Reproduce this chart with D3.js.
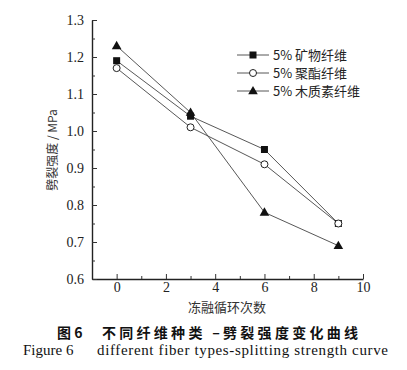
<!DOCTYPE html>
<html>
<head>
<meta charset="utf-8">
<style>
  body { margin: 0; background: #fff; }
  svg { display: block; }
</style>
</head>
<body>
<svg width="407" height="370"></svg>
<script src="https://cdn.jsdelivr.net/npm/d3@7"></script>
<script>

var cycles = [0, 3, 6, 9];
var mineral = [1.19, 1.04, 0.95, 0.75];
var polyester = [1.17, 1.01, 0.91, 0.75];
var lignin = [1.23, 1.05, 0.78, 0.69];
var seriesNames = ["5% 矿物纤维", "5% 聚酯纤维", "5% 木质素纤维"];
var xTicks = [0, 2, 4, 6, 8, 10];
var yTicks = [0.6, 0.7, 0.8, 0.9, 1.0, 1.1, 1.2, 1.3];

var svg = d3.select("svg"),
    serif = "'Liberation Serif', 'DejaVu Serif', serif",
    cjk = "'Noto Sans CJK SC', sans-serif";

var x = d3.scaleLinear().domain([-1, 10]).range([92, 363]);
var y = d3.scaleLinear().domain([0.6, 1.3]).range([279, 20]);

var series = [
  {name: seriesNames[0], values: mineral, marker: "square"},
  {name: seriesNames[1], values: polyester, marker: "circle"},
  {name: seriesNames[2], values: lignin, marker: "triangle"}
];

// axes (ticks point inward)
svg.append("g")
    .attr("transform", "translate(0," + y(0.6) + ")")
    .call(d3.axisBottom(x).tickValues(xTicks).tickSizeInner(-5).tickSizeOuter(0).tickPadding(3).tickFormat(d3.format("d")));
svg.append("g")
    .attr("transform", "translate(0," + y(0.6) + ")")
    .call(d3.axisBottom(x).tickValues([1, 3, 5, 7, 9]).tickSizeInner(-3).tickSizeOuter(0).tickFormat(""))
    .select(".domain").remove();

svg.append("g")
    .attr("transform", "translate(" + x(-1) + ",0)")
    .call(d3.axisLeft(y).tickValues(yTicks).tickSizeInner(-5).tickSizeOuter(0).tickPadding(8).tickFormat(d3.format(".1f")));
svg.append("g")
    .attr("transform", "translate(" + x(-1) + ",0)")
    .call(d3.axisLeft(y).tickValues([0.65, 0.75, 0.85, 0.95, 1.05, 1.15, 1.25]).tickSizeInner(-3).tickSizeOuter(0).tickFormat(""))
    .select(".domain").remove();

svg.selectAll(".domain").attr("stroke", "#222").attr("stroke-width", 1.4);
svg.selectAll(".tick line").attr("stroke", "#333");
svg.selectAll(".tick text")
    .attr("font-family", serif)
    .attr("font-size", 14)
    .attr("fill", "#222");

// axis titles
svg.append("text")
    .attr("transform", "translate(53,150) rotate(-90)")
    .attr("text-anchor", "middle")
    .attr("dy", "0.35em")
    .attr("font-family", cjk)
    .attr("font-size", 12)
    .attr("fill", "#333")
    .text("劈裂强度 / MPa");

svg.append("text")
    .attr("x", 227)
    .attr("y", 307)
    .attr("text-anchor", "middle")
    .attr("dy", "0.35em")
    .attr("font-family", cjk)
    .attr("font-size", 13)
    .attr("fill", "#333")
    .text("冻融循环次数");

// lines
var line = d3.line()
    .x(function(d, i) { return x(cycles[i]); })
    .y(function(d) { return y(d); });

var triangle = d3.symbol().type(d3.symbolTriangle).size(40);

function drawMarker(g, type, px, py) {
  if (type === "square") {
    g.append("rect").attr("x", px - 3.5).attr("y", py - 3.5).attr("width", 7).attr("height", 7)
        .attr("fill", "#111");
  } else if (type === "circle") {
    g.append("circle").attr("cx", px).attr("cy", py).attr("r", 3.5)
        .attr("fill", "#fff").attr("stroke", "#222").attr("stroke-width", 1);
  } else {
    g.append("path").attr("d", triangle).attr("transform", "translate(" + px + "," + (py + 0.5) + ")")
        .attr("fill", "#111");
  }
}

series.forEach(function(s) {
  svg.append("path")
      .datum(s.values)
      .attr("fill", "none")
      .attr("stroke", "#444")
      .attr("stroke-width", 0.9)
      .attr("d", line);
});

series.forEach(function(s) {
  var g = svg.append("g");
  s.values.forEach(function(v, i) {
    drawMarker(g, s.marker, x(cycles[i]), y(v));
  });
});

// legend
var legend = svg.append("g");
series.forEach(function(s, i) {
  var ly = 55 + i * 18;
  legend.append("line")
      .attr("x1", 237).attr("x2", 269).attr("y1", ly).attr("y2", ly)
      .attr("stroke", "#444").attr("stroke-width", 0.9);
  drawMarker(legend, s.marker, 253, ly);
  legend.append("text")
      .attr("x", 273)
      .attr("y", ly)
      .attr("dy", "0.35em")
      .attr("font-family", cjk)
      .attr("font-size", 13)
      .attr("fill", "#222")
      .text(s.name);
});

// caption
var cap1 = svg.append("g")
    .attr("font-family", cjk)
    .attr("font-weight", "bold")
    .attr("font-size", 14)
    .attr("fill", "#111");
cap1.append("text").attr("x", 57).attr("y", 333).attr("dy", "0.35em").text("图 6");
cap1.append("text").attr("x", 102).attr("y", 333).attr("dy", "0.35em")
    .attr("textLength", 256).attr("lengthAdjust", "spacing")
    .text("不同纤维种类 –劈裂强度变化曲线");

var cap2 = svg.append("g")
    .attr("font-family", serif)
    .attr("font-size", 15)
    .attr("fill", "#111");
cap2.append("text").attr("x", 23).attr("y", 350).attr("dy", "0.35em").text("Figure 6");
cap2.append("text").attr("x", 97).attr("y", 350).attr("dy", "0.35em")
    .attr("textLength", 291).attr("lengthAdjust", "spacing")
    .text("different fiber types-splitting strength curve");

</script>
</body>
</html>
